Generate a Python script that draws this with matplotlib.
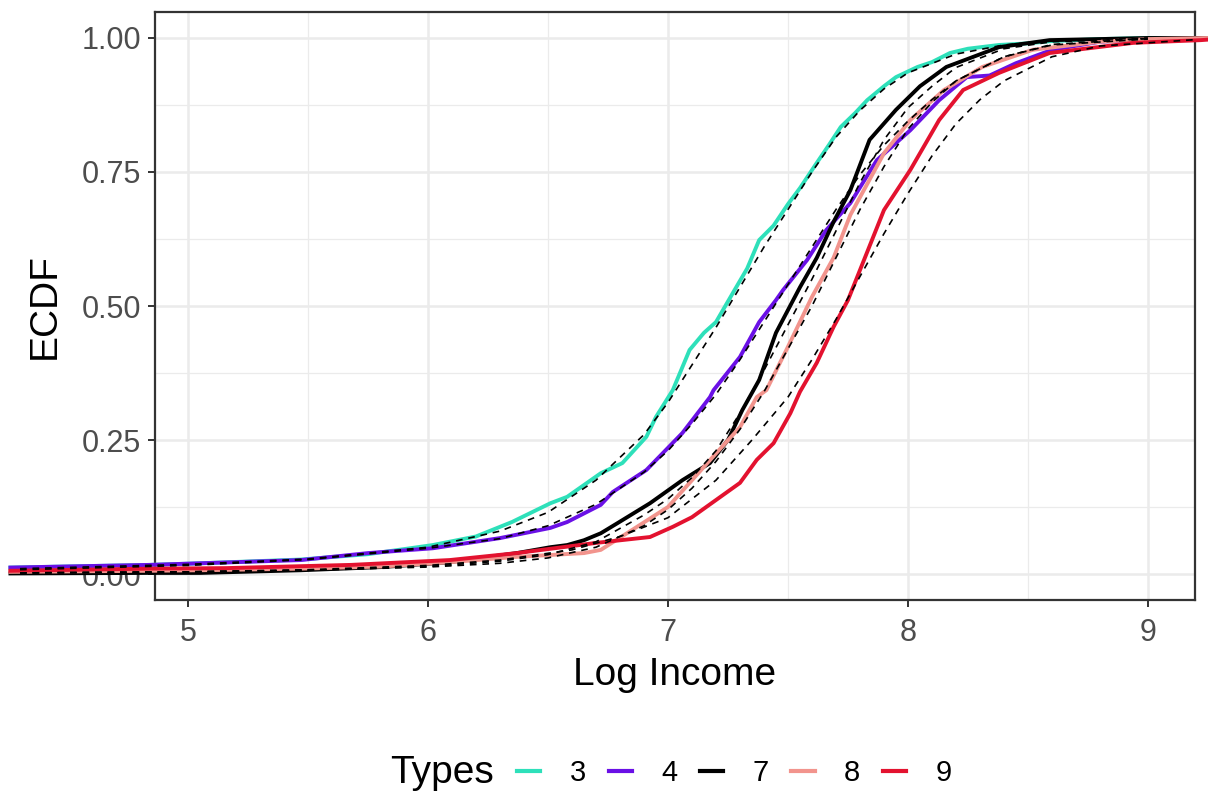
import matplotlib
matplotlib.use('Agg')
import matplotlib.pyplot as plt
from matplotlib.lines import Line2D

plt.rcParams['font.family'] = ['Liberation Sans', 'DejaVu Sans']

# ECDF per type
x3 = [4.26, 4.84, 5.05, 5.47, 5.75, 6.02, 6.2, 6.35, 6.51, 6.58, 6.72, 6.81,
      6.91, 6.95, 7.02, 7.09, 7.15, 7.2, 7.27, 7.33, 7.38, 7.44, 7.5, 7.55,
      7.62, 7.67, 7.72, 7.78, 7.83, 7.9, 7.95, 8.04, 8.1, 8.175, 8.25, 8.38,
      8.5, 8.59, 8.8, 9.0, 9.25]
f3 = [.012, .017, .02, .027, .037, .054, .07, .097, .132, .144, .188, .207,
      .256, .293, .343, .418, .45, .47, .524, .57, .623, .65, .69, .72,
      .767, .80, .834, .86, .884, .91, .927, .946, .955, .972, .98, .987,
      .99, .994, .998, 1, 1]

x4 = [4.26, 4.84, 5.05, 5.47, 5.75, 6.02, 6.3, 6.51, 6.58, 6.72, 6.77, 6.91,
      7.06, 7.175, 7.19, 7.3, 7.38, 7.45, 7.48, 7.58, 7.66, 7.76, 7.87, 8.01,
      8.13, 8.245, 8.34, 8.45, 8.6, 8.8, 9.0, 9.25]
f4 = [.012, .017, .02, .026, .039, .048, .067, .086, .097, .129, .153, .194,
      .263, .33, .343, .405, .47, .511, .53, .586, .642, .692, .772, .828,
      .884, .927, .93, .953, .978, .993, .998, 1]

x7 = [4.26, 4.84, 5.05, 5.47, 5.81, 6.09, 6.37, 6.51, 6.58, 6.65, 6.72, 6.79,
      6.925, 7.06, 7.175, 7.25, 7.31, 7.38, 7.45, 7.55, 7.62, 7.69, 7.76,
      7.84, 7.95, 8.05, 8.16, 8.38, 8.59, 8.8, 9.0, 9.25]
f7 = [.001, .002, .002, .007, .013, .022, .039, .05, .054, .063, .076, .095,
      .132, .175, .207, .25, .306, .362, .45, .535, .59, .657, .716,
      .81, .866, .91, .946, .983, .996, .998, 1, 1]

x8 = [4.26, 4.84, 5.05, 5.47, 5.81, 6.09, 6.37, 6.65, 6.72, 6.85, 7.0, 7.1,
      7.2, 7.3, 7.37, 7.41, 7.5, 7.6, 7.69, 7.76, 7.9, 8.01, 8.15, 8.31,
      8.52, 8.8, 9.0, 9.25]
f8 = [.004, .006, .007, .01, .014, .022, .032, .039, .045, .082, .125, .175,
      .225, .274, .33, .343, .424, .517, .59, .670, .785, .847, .903, .946,
      .978, .993, .998, 1]

x9 = [4.26, 4.84, 5.16, 5.68, 6.09, 6.37, 6.7, 6.925, 7.02, 7.1, 7.2, 7.3,
      7.37, 7.44, 7.51, 7.55, 7.62, 7.69, 7.75, 7.9, 8.01, 8.13, 8.23, 8.38,
      8.59, 8.94, 9.22, 9.25]
f9 = [.006, .01, .011, .017, .026, .039, .058, .069, .088, .106, .138, .17,
      .213, .244, .30, .34, .394, .461, .511, .679, .754, .847, .903, .935,
      .972, .991, .996, .997]

# fitted curves (dashed)
dx3 = [4.3, 5, 5.5, 6, 6.3, 6.5, 6.7, 6.9, 7.0, 7.1, 7.2, 7.3, 7.4, 7.5, 7.6,
       7.7, 7.8, 7.9, 8.0, 8.2, 8.4, 8.6, 9.0]
df3 = [.01, .018, .028, .05, .08, .115, .175, .26, .32, .39, .46, .535, .61,
       .68, .75, .815, .865, .905, .935, .97, .987, .995, 1.0]
dx4 = [4.3, 5, 5.5, 6, 6.3, 6.5, 6.7, 6.9, 7.0, 7.1, 7.2, 7.3, 7.4, 7.5, 7.6,
       7.7, 7.8, 7.9, 8.0, 8.1, 8.2, 8.4, 8.6, 9.0]
df4 = [.008, .016, .027, .048, .066, .09, .13, .19, .23, .28, .335, .4, .47,
       .54, .61, .68, .745, .8, .845, .885, .92, .965, .988, .999]
dx7 = [4.3, 5, 5.5, 6, 6.3, 6.5, 6.7, 6.9, 7.0, 7.1, 7.2, 7.3, 7.4, 7.5, 7.6,
       7.7, 7.8, 7.9, 8.0, 8.1, 8.2, 8.4, 8.6, 9.0]
df7 = [.002, .004, .007, .014, .024, .036, .06, .11, .14, .18, .23, .3, .38,
       .465, .55, .64, .73, .81, .87, .91, .945, .98, .993, .999]
dx8 = [4.3, 5, 5.5, 6, 6.3, 6.5, 6.7, 6.9, 7.0, 7.1, 7.2, 7.3, 7.4, 7.5, 7.6,
       7.7, 7.8, 7.9, 8.0, 8.1, 8.2, 8.4, 8.6, 9.0]
df8 = [.002, .004, .007, .013, .02, .03, .05, .09, .12, .16, .21, .27, .34,
       .42, .5, .59, .68, .76, .83, .88, .92, .965, .987, .998]
dx9 = [4.3, 5, 5.5, 6, 6.3, 6.6, 6.8, 7.0, 7.2, 7.35, 7.5, 7.6, 7.7, 7.8, 7.9,
       8.0, 8.1, 8.2, 8.3, 8.4, 8.6, 8.8, 9.2]
df9 = [.002, .004, .008, .016, .026, .045, .07, .105, .175, .25, .33, .40,
       .475, .555, .635, .71, .78, .84, .885, .92, .965, .985, .997]

types = ['3', '4', '7', '8', '9']
colors = ['#2EE0BA', '#6A10E6', '#000000', '#F2948D', '#E3122F']
ecdf_x = [x3, x4, x7, x8, x9]
ecdf_f = [f3, f4, f7, f8, f9]
fit_x = [dx3, dx4, dx7, dx8, dx9]
fit_f = [df3, df4, df7, df8, df9]

fig = plt.figure(figsize=(12.08, 7.99), dpi=100)
ax = fig.add_axes([155/1208, 199/799, 1040/1208, 588/799])

ax.set_xlim(4.8625, 9.196)
ax.set_ylim(-0.0485, 1.0485)
ax.set_xticks([5, 6, 7, 8, 9])
ax.set_xticks([5.5, 6.5, 7.5, 8.5], minor=True)
ax.set_yticks([0, 0.25, 0.5, 0.75, 1.0])
ax.set_yticklabels(['0.00', '0.25', '0.50', '0.75', '1.00'])
ax.set_yticks([0.125, 0.375, 0.625, 0.875], minor=True)
ax.grid(which='major', color='#EBEBEB', linewidth=1.8)
ax.grid(which='minor', color='#EBEBEB', linewidth=0.9)
ax.set_axisbelow(True)
for s in ax.spines.values():
    s.set_color('#333333')
    s.set_linewidth(1.6)
ax.tick_params(which='major', length=5, width=1.4, color='#333333',
               labelsize=22, labelcolor='#4D4D4D')
ax.tick_params(axis='x', which='major', pad=8)
ax.tick_params(axis='y', which='major', pad=5)
ax.tick_params(which='minor', length=0)

for xs, fs, c in zip(ecdf_x, ecdf_f, colors):
    ax.plot(xs, fs, color=c, linewidth=2.8, clip_on=False, zorder=3)

for xs, fs in zip(fit_x, fit_f):
    ax.plot(xs, fs, color='black', linewidth=1.2, linestyle=(0, (4, 3.5)),
            clip_on=False, zorder=4)

ax.set_xlabel('Log Income', fontsize=28, va='center')
ax.xaxis.set_label_coords(0.5, (600 - 675) / 588)
ax.set_ylabel('ECDF', fontsize=28, va='center')
ax.yaxis.set_label_coords((45 - 155) / 1040, 0.5)

handles = [Line2D([0], [0], color=c, linewidth=3) for c in colors]
fig.legend(handles, types, loc='center left',
           bbox_to_anchor=(517/1208, 1 - 773/799),
           ncol=5, frameon=False, fontsize=21, handlelength=0.8,
           handletextpad=1.0, columnspacing=0.78, borderaxespad=0,
           borderpad=0)
fig.text(390/1208, 1 - 773/799, 'Types', fontsize=28, ha='left', va='center')

fig.savefig('out.png', dpi=100, facecolor='white')
